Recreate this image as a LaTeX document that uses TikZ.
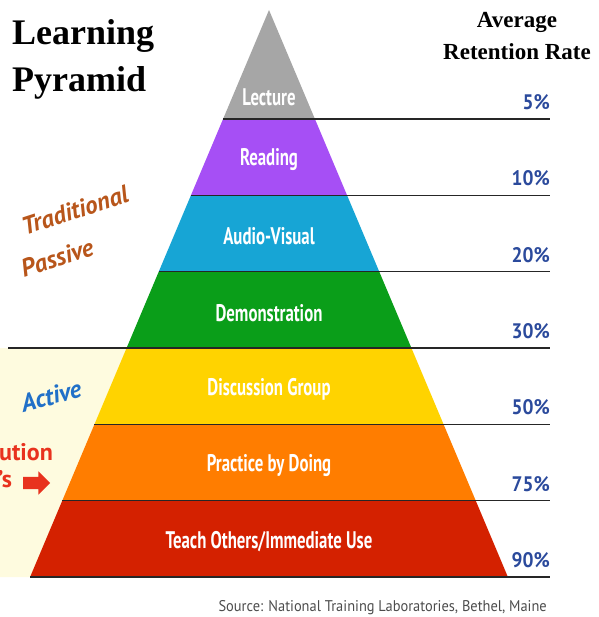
\documentclass[tikz,border=0pt]{standalone}
\usepackage{fontspec}
\setmainfont{Liberation Serif}
\newfontfamily\condfont[FakeStretch=0.70]{PT Sans}
\newfontfamily\pctfont[FakeStretch=0.92]{PT Sans}
\newfontfamily\srcfont[FakeStretch=0.93]{PT Sans}
\newfontfamily\slfont{PT Sans}
\usepackage{xcolor}
\usetikzlibrary{shapes.arrows}
\definecolor{lecgray}{HTML}{A6A6A6}
\definecolor{readpurple}{HTML}{A64FF5}
\definecolor{avcyan}{HTML}{17A5D5}
\definecolor{demgreen}{HTML}{0A9E19}
\definecolor{discyellow}{HTML}{FFD300}
\definecolor{practorange}{HTML}{FF7D00}
\definecolor{teachred}{HTML}{D42100}
\definecolor{paleyel}{HTML}{FEFBDF}
\definecolor{pctblue}{HTML}{2B4A9C}
\definecolor{tradbrown}{HTML}{B8561B}
\definecolor{actblue}{HTML}{2170C8}
\definecolor{cutred}{HTML}{E8321E}
\newcommand{\PCT}[0]{pctblue}
\newcommand{\TRAD}[0]{tradbrown}
\newcommand{\ACT}[0]{actblue}
\newcommand{\CUT}[0]{cutred}

\begin{document}
\begin{tikzpicture}[x=1pt, y=-1pt,
  layerlbl/.style={text=white, inner sep=0pt, font=\condfont\bfseries\fontsize{24}{26}\selectfont},
  pctlbl/.style={anchor=base east, inner sep=0pt, text=\PCT, font=\pctfont\bfseries\fontsize{21}{22}\selectfont},
  rule/.style={line width=1.6pt, black!85},
  slanted/.style={inner sep=0pt, rotate=18, font=\slfont\bfseries\itshape\fontsize{25}{28}\selectfont},
  heading/.style={inner sep=0pt, font=\bfseries\fontsize{23}{26}\selectfont}]

  \newcommand\AX{269}     % apex x
  \newcommand\RX{550}     % right end of the rules
  \newcommand\DY{76.333}  % layer height
  \newcommand\SL{0.42134} % half width per unit of depth

  \useasboundingbox (0,0) rectangle (598,617);

  % active zone behind the lower layers
  \fill[paleyel] (0,348) -- (\AX-142.4,348) -- (\AX-238.9,577) -- (0,577) -- cycle;

  % layers
  \foreach \i/\col/\txt/\pct in {1/lecgray/Lecture/5, 2/readpurple/Reading/10,
      3/avcyan/Audio-Visual/20, 4/demgreen/Demonstration/30,
      5/discyellow/Discussion Group/50, 6/practorange/Practice by Doing/75,
      7/teachred/{Teach Others/Immediate Use}/90}{
    \pgfmathsetmacro\ya{\i==1 ? 10 : 119+\DY*(\i-2)}
    \pgfmathsetmacro\yb{119+\DY*(\i-1)}
    \pgfmathsetmacro\wa{\SL*(\ya-10)}
    \pgfmathsetmacro\wb{\SL*(\yb-10)}
    \pgfmathsetmacro\ym{\i==1 ? 97 : \ya+41}
    \fill[\col] (\AX-\wa,\ya) -- (\AX+\wa,\ya) -- (\AX+\wb,\yb) -- (\AX-\wb,\yb) -- cycle;
    \node[layerlbl] (lay\i) at (\AX,\ym) {\txt};
    \node[pctlbl] (pct\i) at (\RX,\yb-9.5) {\pct\%};
  }

  % rules
  \foreach \i in {1,...,7}{
    \pgfmathsetmacro\yb{119+\DY*(\i-1)}
    \pgfmathsetmacro\xl{\i==4 ? 8 : \AX-\SL*(\yb-10)}
    \draw[rule] (\xl,\yb) -- (\RX,\yb);
  }

  % headings
  \node[anchor=base west, inner sep=0pt, font=\bfseries\fontsize{36}{40}\selectfont] (ttl1) at (12,45) {Learning};
  \node[anchor=base west, inner sep=0pt, font=\bfseries\fontsize{36}{40}\selectfont] (ttl2) at (12,92) {Pyramid};
  \node[heading, anchor=base] (avg1) at (517,28) {Average};
  \node[heading, anchor=base] (avg2) at (517,60) {Retention Rate};

  % side notes
  \node[slanted, text=\TRAD] (trad) at (75,210) {Traditional};
  \node[slanted, text=\TRAD] (pas) at (57,258) {Passive};
  \node[slanted, text=\ACT, rotate=-3] (act) at (51,396) {Active};
  \node[anchor=base west, inner sep=0pt, text=\CUT, font=\slfont\bfseries\fontsize{24}{26}\selectfont] (cut1) at (-1,460) {ution};
  \node[anchor=base west, inner sep=0pt, text=\CUT, font=\slfont\bfseries\fontsize{24}{26}\selectfont] (cut2) at (-2,487) {’s};
  \node[single arrow, fill=\CUT, inner sep=6pt, minimum height=27pt, single arrow head extend=5.5pt] (arr) at (33.5,483) {};

  \node[anchor=base east, inner sep=0pt, text=black!70, font=\srcfont\fontsize{15.5}{17}\selectfont] (src) at (547,611) {Source: National Training Laboratories, Bethel, Maine};

\end{tikzpicture}
\end{document}
